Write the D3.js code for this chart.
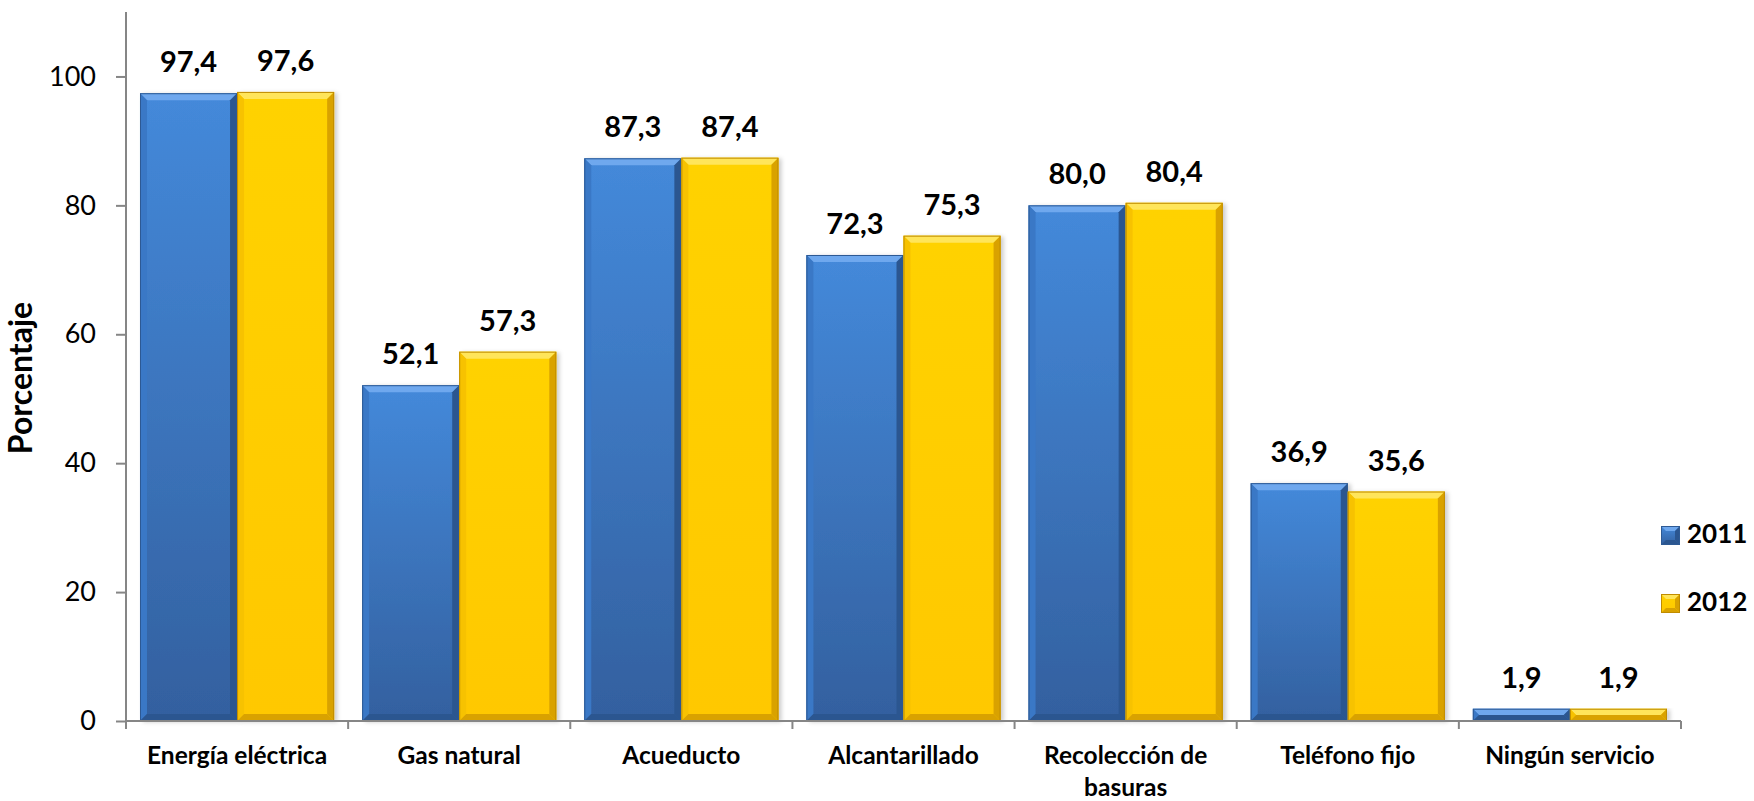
<!DOCTYPE html>
<html>
<head>
<meta charset="utf-8">
<script src="https://cdn.jsdelivr.net/npm/d3@7"></script>
<style>
  body { margin: 0; background: #fff; }
  svg { display: block; font-family: Lato, "Open Sans", sans-serif; }
</style>
</head>
<body>
<div id="chart"></div>
<script>
// data
const categories = ["Energía eléctrica", "Gas natural", "Acueducto", "Alcantarillado",
  "Recolección de basuras", "Teléfono fijo", "Ningún servicio"];
const years = ["2011", "2012"];
const values2011 = [97.4, 52.1, 87.3, 72.3, 80.0, 36.9, 1.9];
const values2012 = [97.6, 57.3, 87.4, 75.3, 80.4, 35.6, 1.9];
const yTicks = [0, 20, 40, 60, 80, 100];

const width = 1754, height = 801;
const plot = {left: 126, right: 1681, top: 12, bottom: 721};

const palette = {
  "2011": {top: "#4489da", bottom: "#33609f", hi: "#6fa8ee", lo: "#2b5690", side: "#3a78c6", edge: "#2e5a94"},
  "2012": {top: "#ffd200", bottom: "#ffc800", hi: "#ffe55a", lo: "#d9a200", side: "#f7c200", edge: "#c08c00"}
};

const locale = d3.formatLocale({decimal: ",", thousands: ".", grouping: [3], currency: ["", ""]});
const fmt = locale.format(".1f");

const svg = d3.select("#chart").append("svg")
  .attr("width", width)
  .attr("height", height);

const defs = svg.append("defs");
years.forEach(y => {
  const g = defs.append("linearGradient").attr("id", "grad" + y)
    .attr("x1", 0).attr("y1", 0).attr("x2", 0).attr("y2", 1);
  g.append("stop").attr("offset", "0%").attr("stop-color", palette[y].top);
  g.append("stop").attr("offset", "100%").attr("stop-color", palette[y].bottom);
});
const shadow = defs.append("filter").attr("id", "shadow")
  .attr("x", "-5%").attr("y", "-5%").attr("width", "115%").attr("height", "110%");
shadow.append("feDropShadow").attr("dx", 3).attr("dy", 1).attr("stdDeviation", 2)
  .attr("flood-color", "#000").attr("flood-opacity", 0.2);

const x0 = d3.scaleBand()
  .domain(categories)
  .range([plot.left, plot.right])
  .paddingInner(0.126)
  .paddingOuter(0.063);

const x1 = d3.scaleBand()
  .domain(years)
  .range([0, x0.bandwidth()]);

const y = d3.scaleLinear()
  .domain([0, 110])
  .range([plot.bottom, plot.top]);

const rows = categories.map((c, i) => ({
  cat: c,
  bars: [{year: "2011", value: values2011[i]}, {year: "2012", value: values2012[i]}]
}));

// bars
const bars = svg.append("g")
  .selectAll("g.cat")
  .data(rows)
  .enter().append("g")
  .attr("class", "cat")
  .attr("transform", d => "translate(" + x0(d.cat) + ",0)");

bars.selectAll("g.bar")
  .data(d => d.bars)
  .enter().append("g")
  .attr("class", "bar")
  .each(function (d) {
    const g = d3.select(this);
    const bx = x1(d.year), bw = x1.bandwidth();
    const by = y(d.value), bh = y(0) - y(d.value);
    const p = palette[d.year];
    const b = Math.min(7, bh / 2);
    g.append("rect")
      .attr("x", bx).attr("y", by).attr("width", bw).attr("height", bh)
      .attr("fill", "url(#grad" + d.year + ")")
      .attr("filter", "url(#shadow)");
    const x2 = bx + bw, y2 = by + bh;
    const poly = (pts, fill) => g.append("polygon")
      .attr("points", pts.map(q => q.join(",")).join(" "))
      .attr("fill", fill);
    poly([[bx, by], [x2, by], [x2 - b, by + b], [bx + b, by + b]], p.hi);
    poly([[bx, by], [bx + b, by + b], [bx + b, y2 - b], [bx, y2]], p.side);
    poly([[x2, by], [x2, y2], [x2 - b, y2 - b], [x2 - b, by + b]], p.lo);
    poly([[bx, y2], [bx + b, y2 - b], [x2 - b, y2 - b], [x2, y2]], p.lo);
    g.append("rect")
      .attr("x", bx + 0.5).attr("y", by + 0.5).attr("width", bw - 1).attr("height", Math.max(0, bh - 1))
      .attr("fill", "none").attr("stroke", p.edge).attr("stroke-width", 1);
  });

// data labels
bars.selectAll("text.val")
  .data(d => d.bars)
  .enter().append("text")
  .attr("class", "val")
  .attr("x", d => x1(d.year) + x1.bandwidth() / 2)
  .attr("y", d => y(d.value) - 21)
  .attr("text-anchor", "middle")
  .attr("font-size", 29)
  .attr("font-weight", "bold")
  .attr("fill", "#000")
  .text(d => fmt(d.value));

// y axis
const yAxis = svg.append("g")
  .attr("transform", "translate(" + plot.left + ",0)")
  .call(d3.axisLeft(y).tickValues(yTicks).tickSize(10).tickPadding(20).tickSizeOuter(0));
yAxis.select(".domain").remove();
yAxis.append("line")
  .attr("x1", 0).attr("x2", 0).attr("y1", plot.top).attr("y2", plot.bottom + 8)
  .attr("stroke", "#868686").attr("stroke-width", 2);
yAxis.selectAll(".tick line").attr("stroke", "#868686").attr("stroke-width", 2);
yAxis.selectAll(".tick text")
  .attr("font-size", 27)
  .attr("font-family", "Lato, sans-serif")
  .attr("fill", "#000");

// x axis
const xg = svg.append("g");
xg.append("line")
  .attr("x1", plot.left).attr("x2", plot.right)
  .attr("y1", plot.bottom).attr("y2", plot.bottom)
  .attr("stroke", "#868686").attr("stroke-width", 2);
const step = x0.step();
xg.selectAll("line.sep")
  .data(d3.range(categories.length + 1))
  .enter().append("line")
  .attr("class", "sep")
  .attr("x1", i => plot.left + i * step).attr("x2", i => plot.left + i * step)
  .attr("y1", plot.bottom).attr("y2", plot.bottom + 8)
  .attr("stroke", "#868686").attr("stroke-width", 2);

const catLabels = xg.selectAll("text.cat")
  .data(categories)
  .enter().append("text")
  .attr("class", "cat")
  .attr("x", d => x0(d) + x0.bandwidth() / 2)
  .attr("y", 764)
  .attr("text-anchor", "middle")
  .attr("font-size", 24.5)
  .attr("font-weight", "bold")
  .attr("fill", "#000");

catLabels.each(function (d) {
  const t = d3.select(this);
  const words = d.split(" ");
  let line = [], lines = [];
  const probe = t.append("tspan");
  words.forEach(w => {
    const test = line.concat(w).join(" ");
    probe.text(test);
    if (probe.node().getComputedTextLength() > 214 && line.length) {
      lines.push(line.join(" "));
      line = [w];
    } else {
      line.push(w);
    }
  });
  lines.push(line.join(" "));
  probe.remove();
  const cx = t.attr("x");
  lines.forEach((l, i) => {
    t.append("tspan").attr("x", cx).attr("dy", i ? 32 : 0).text(l);
  });
});

// y axis title
svg.append("text")
  .attr("transform", "translate(32,378) rotate(-90)")
  .attr("text-anchor", "middle")
  .attr("font-size", 32)
  .attr("font-weight", "bold")
  .text("Porcentaje");

// legend
const legend = svg.append("g")
  .selectAll("g")
  .data(years)
  .enter().append("g")
  .attr("transform", (d, i) => "translate(1661," + (526 + i * 68) + ")");
legend.each(function (d) {
  const g = d3.select(this);
  const p = palette[d];
  const s = 19, b = 5;
  g.append("rect").attr("width", s).attr("height", s).attr("fill", "url(#grad" + d + ")");
  const poly = (pts, fill) => g.append("polygon")
    .attr("points", pts.map(q => q.join(",")).join(" ")).attr("fill", fill);
  poly([[0, 0], [s, 0], [s - b, b], [b, b]], p.hi);
  poly([[s, 0], [s, s], [s - b, s - b], [s - b, b]], p.lo);
  poly([[0, s], [b, s - b], [s - b, s - b], [s, s]], p.lo);
  g.append("rect").attr("x", 0.5).attr("y", 0.5).attr("width", s - 1).attr("height", s - 1)
    .attr("fill", "none").attr("stroke", p.edge);
});
legend.append("text")
  .attr("x", 26)
  .attr("y", 17)
  .attr("font-size", 26)
  .attr("font-weight", "bold")
  .text(d => d);
</script>
</body>
</html>
